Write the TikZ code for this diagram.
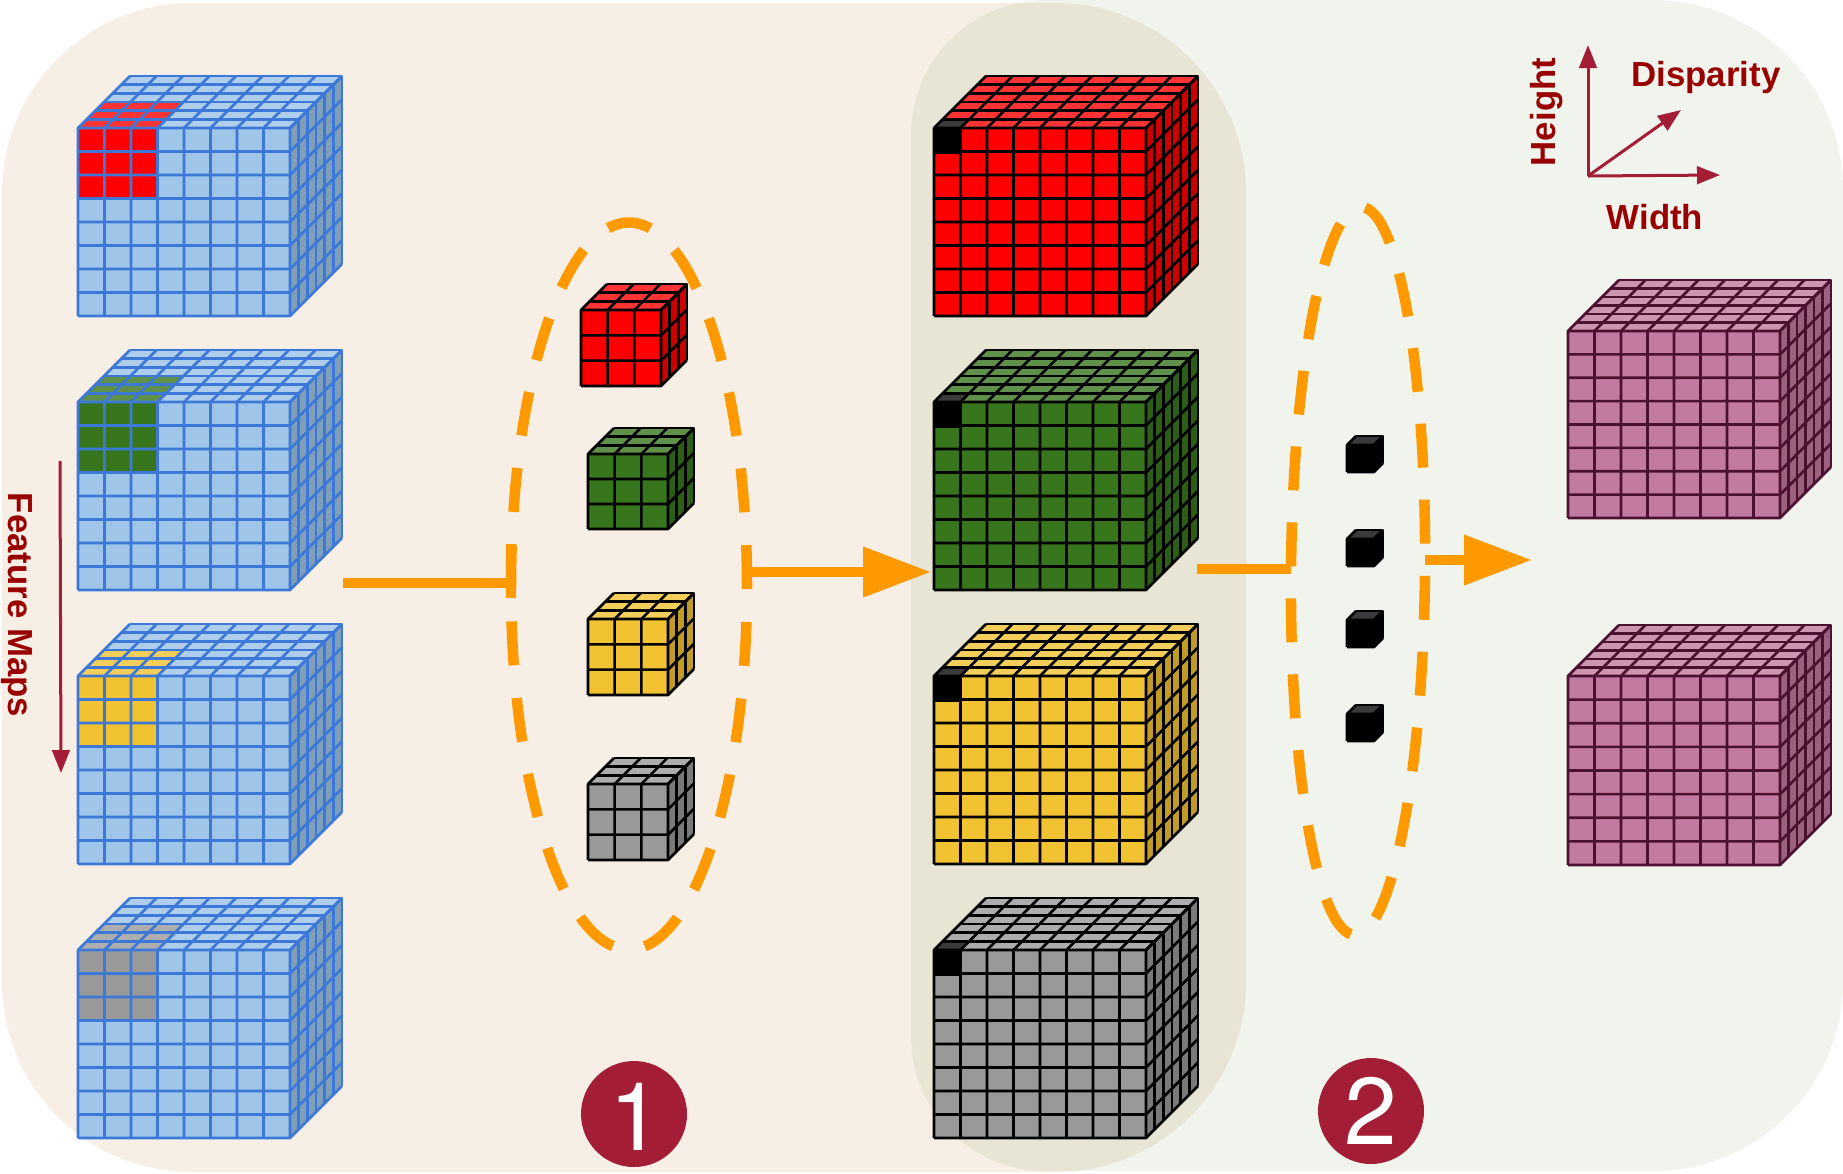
\documentclass[tikz,border=0pt]{standalone}
\usepackage{fontspec}
\setmainfont{Liberation Sans}
\newfontfamily\badgefont{TeX Gyre Heros}
\usetikzlibrary{shapes.geometric,arrows.meta}
\definecolor{panelA}{HTML}{F7EEE5}
\definecolor{panelB}{HTML}{F0F4EC}
\definecolor{panelAB}{HTML}{E8E5D5}
\definecolor{labelred}{HTML}{990000}
\definecolor{axisred}{HTML}{A31D36}
\definecolor{pathorange}{HTML}{FF9900}
\definecolor{frontB}{HTML}{9FC5E8}\definecolor{topB}{HTML}{AFCEEB}\definecolor{sideB}{HTML}{7F9EBA}\definecolor{lineB}{HTML}{3C78D8}
\definecolor{frontR}{HTML}{FF0000}\definecolor{topR}{HTML}{FF3333}\definecolor{sideR}{HTML}{CC0000}\definecolor{lineR}{HTML}{000000}
\definecolor{frontG}{HTML}{38761D}\definecolor{topG}{HTML}{60914A}\definecolor{sideG}{HTML}{2D5E17}\definecolor{lineG}{HTML}{000000}
\definecolor{frontY}{HTML}{F1C232}\definecolor{topY}{HTML}{F4CE5B}\definecolor{sideY}{HTML}{C19B28}\definecolor{lineY}{HTML}{000000}
\definecolor{frontN}{HTML}{999999}\definecolor{topN}{HTML}{ADADAD}\definecolor{sideN}{HTML}{7A7A7A}\definecolor{lineN}{HTML}{000000}
\definecolor{frontP}{HTML}{C27BA0}\definecolor{topP}{HTML}{CE95B3}\definecolor{sideP}{HTML}{9B6280}\definecolor{lineP}{HTML}{4C1130}
\definecolor{frontK}{HTML}{000000}\definecolor{topK}{HTML}{3A3A3A}\definecolor{sideK}{HTML}{000000}\definecolor{lineK}{HTML}{000000}
\tikzset{
  axisline/.style={draw=axisred,line width=.3mm,-{Triangle[length=2.3mm,width=1.75mm]}},
  axislabel/.style={text=labelred,font=\fontsize{9.9pt}{10pt}\selectfont\bfseries,anchor=base,inner sep=0pt},
  pathline/.style={draw=pathorange,line width=1.05mm},
  patharrow/.style={pathline,-{Triangle[length=6.8mm,width=4.8mm]}},
  selring/.style={ellipse,draw=pathorange,line width=1.05mm,inner sep=0pt,outer sep=0pt},
  badge/.style={circle,fill=axisred,text=white,minimum size=10.6mm,inner sep=0pt,font=\badgefont\fontsize{27pt}{27pt}\selectfont},
}
% x y w h d n m colour extra
\newcommand{\gridcube}[9]{
\begin{scope}[shift={(#1,#2)},line join=round]
\fill[front#8] (0,0) rectangle (#3,#4);
\fill[top#8] (0,0)--(#5,-#5)--({#3+#5},-#5)--(#3,0)--cycle;
\fill[side#8] (#3,0)--({#3+#5},-#5)--({#3+#5},{#4-#5})--(#3,#4)--cycle;
#9
\begin{scope}[draw=line#8,line width=.26mm]
\foreach \i in {0,...,#6} {
  \draw ({#3*\i/#6},#4)--({#3*\i/#6},0)--({#3*\i/#6+#5},-#5);
  \draw (0,{#4*\i/#6})--(#3,{#4*\i/#6})--({#3+#5},{#4*\i/#6-#5});
}
\foreach \i in {0,...,#7} {
  \draw ({#5*\i/#7},{-#5*\i/#7})--({#3+#5*\i/#7},{-#5*\i/#7})--({#3+#5*\i/#7},{#4-#5*\i/#7});
}
\end{scope}
\end{scope}
}
% three by three corner of a feature map
\newcommand{\cornerpatch}[1]{
\fill[front#1] (0,0) rectangle (80,71);
\fill[top#1] (0,0)--(26,-26)--(106,-26)--(80,0)--cycle;
}
% single corner cell of a cost volume
\newcommand{\blackcell}{
\fill[black] (0,0) rectangle (28,26);
\fill[topK] (0,0)--(8.7,-8.7)--(35.3,-8.7)--(26.6,0)--cycle;
}
\newcommand{\leftpanel}{[rounded corners=19mm] (2,3) rectangle (1246,1172)}
\newcommand{\rightpanel}{[rounded corners=13.5mm] (1377,0)--(911,0)--(911,1171)--(1377,1171) [rounded corners=19mm] --(1843,1171)--(1843,0)--cycle}
\begin{document}
\begin{tikzpicture}[x=.1mm,y=-.1mm]
\useasboundingbox (0,0) rectangle (1843,1173);
\fill[panelA] \leftpanel;
\fill[panelB] \rightpanel;
\begin{scope}
\clip \leftpanel;
\fill[panelAB] \rightpanel;
\end{scope}
% feature maps
\gridcube{78}{128}{212}{188}{52}{8}{6}{B}{\cornerpatch{R}}
\gridcube{78}{402}{212}{188}{52}{8}{6}{B}{\cornerpatch{G}}
\gridcube{78}{676}{212}{188}{52}{8}{6}{B}{\cornerpatch{Y}}
\gridcube{78}{950}{212}{188}{52}{8}{6}{B}{\cornerpatch{N}}
% small windows
\gridcube{581}{310}{80}{76}{26}{3}{3}{R}{}
\gridcube{588}{454}{80}{75}{26}{3}{3}{G}{}
\gridcube{588}{619}{80}{76}{26}{3}{3}{Y}{}
\gridcube{588}{784}{80}{76}{26}{3}{3}{N}{}
% cost volumes
\gridcube{934}{128}{212}{188}{52}{8}{6}{R}{\blackcell}
\gridcube{934}{402}{212}{188}{52}{8}{6}{G}{\blackcell}
\gridcube{934}{676}{212}{188}{52}{8}{6}{Y}{\blackcell}
\gridcube{934}{950}{212}{188}{52}{8}{6}{N}{\blackcell}
% single voxels
\gridcube{1347}{445}{27}{27}{9}{1}{1}{K}{}
\gridcube{1347}{539}{27}{27}{9}{1}{1}{K}{}
\gridcube{1347}{620}{27}{27}{9}{1}{1}{K}{}
\gridcube{1347}{714}{27}{27}{9}{1}{1}{K}{}
% outputs
\gridcube{1568}{331}{212}{187}{51}{8}{6}{P}{}
\gridcube{1568}{676}{212}{189}{51}{8}{6}{P}{}
% selection rings
\node[selring,dash pattern=on 4.4mm off 3.28mm,dash phase=.3mm,minimum width=23.6mm,minimum height=72.7mm] (ringone) at (629,586) {};
\node[selring,dash pattern=on 4.4mm off 3.2mm,dash phase=4.8mm,rotate=-.5,minimum width=13.4mm,minimum height=72.8mm] (ringtwo) at (1358,571) {};
% connectors
\coordinate (mapout) at (343,583);
\coordinate (ringbarhigh) at (511,544);
\coordinate (ringbarlow) at (511,598);
\coordinate (windowout) at (750,572);
\coordinate (volumein) at (931,572);
\coordinate (volumeout) at (1197,569);
\coordinate (voxelout) at (1425,560);
\coordinate (finalin) at (1532,560);
\draw[pathline] (ringbarhigh)--(ringbarlow);
\draw[pathline] (mapout)--(mapout-|ringone.west);
\draw[patharrow] (windowout)--(volumein);
\draw[pathline] (volumeout)--(volumeout-|ringtwo.west);
\draw[patharrow] (voxelout)--(finalin);
% axes
\coordinate (axisorigin) at (1588,176);
\coordinate (axisheight) at (1588,45);
\coordinate (axiswidth) at (1720,175);
\coordinate (axisdisp) at (1681,110);
\draw[axisline] (axisorigin)--(axisheight);
\draw[axisline] (axisorigin)--(axiswidth);
\draw[axisline] (axisorigin)--(axisdisp);
\node[axislabel] (heightlabel) at (1555,112) [rotate=90] {Height};
\node[axislabel] (displabel) at (1706,86) {Disparity};
\node[axislabel] (widthlabel) at (1655,229) {Width};
\coordinate (mapstop) at (60,461);
\coordinate (mapsend) at (61,773);
\draw[axisline] (mapstop)--(mapsend);
\node[axislabel] (mapslabel) at (8,605) [rotate=-90] {Feature Maps};
% step numbers
\node[badge,text depth=0pt] (stepone) at (634,1114) {\raisebox{-.5mm}{\hspace{.4mm}1}};
\node[badge] (steptwo) at (1371,1111) {2};
\end{tikzpicture}
\end{document}
